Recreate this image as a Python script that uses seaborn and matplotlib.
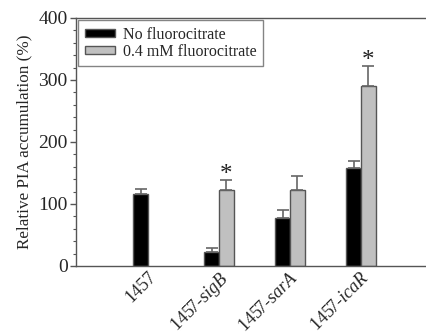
import numpy as np
import pandas as pd
import matplotlib
matplotlib.use("Agg")
import matplotlib.pyplot as plt
import seaborn as sns
from matplotlib.ticker import MultipleLocator

strains = ["1457", "1457-sigB", "1457-sarA", "1457-icaR"]
tick_labels = ["1457", "1457-$\\it{sigB}$", "1457-$\\it{sarA}$", "1457-$\\it{icaR}$"]
conditions = ["No fluorocitrate", "0.4 mM fluorocitrate"]
no_fluoro = [115.6, 22.6, 77.0, 158.5]
no_fluoro_err = [9.1, 5.9, 14.0, 11.5]
fluoro = [np.nan, 122.0, 122.0, 290.0]
fluoro_err = [np.nan, 17.0, 23.0, 33.0]
significant = [False, True, False, True]

sns.set_style("white")
plt.rcParams['font.family'] = ['Liberation Serif', 'DejaVu Serif']
plt.rcParams['mathtext.fontset'] = 'custom'
plt.rcParams['mathtext.rm'] = 'Liberation Serif'
plt.rcParams['mathtext.it'] = 'Liberation Serif:italic'

df = pd.DataFrame({
    "strain": strains * 2,
    "cond": [conditions[0]] * 4 + [conditions[1]] * 4,
    "value": no_fluoro + fluoro,
})

fig = plt.figure(figsize=(4.26, 3.36), dpi=100)
ax = fig.add_axes([76 / 426, 1 - 266 / 336, 1 - 76 / 426, (266 - 18) / 336])

colors = {conditions[0]: "#000000", conditions[1]: "#c0c0c0"}
sns.barplot(data=df, x="strain", y="value", hue="cond", hue_order=conditions,
            order=strains, palette=colors, width=0.42, gap=0,
            edgecolor="#555555", linewidth=1.0, ax=ax, legend=True)

half = 0.42 / 4
xs = np.arange(len(strains))
for off, vals, errs in [(-half, no_fluoro, no_fluoro_err), (half, fluoro, fluoro_err)]:
    v = np.array(vals, dtype=float)
    e = np.array(errs, dtype=float)
    ax.errorbar(xs + off, v, yerr=[np.zeros_like(e), e], fmt="none",
                ecolor="#666666", elinewidth=1.2, capsize=4, capthick=1.2, zorder=3)
for i, s in enumerate(significant):
    if s:
        ax.text(xs[i] + half, fluoro[i] + fluoro_err[i] - 10, "*", ha="center", va="bottom",
                fontsize=18, color="#222222")

ax.set_ylim(0, 400)
ax.set_xlim(-1.014, 3.915)
ax.yaxis.set_major_locator(MultipleLocator(100))
ax.yaxis.set_minor_locator(MultipleLocator(20))
ax.tick_params(axis="y", which="major", direction="out", length=4, width=1, color="#555555",
               labelsize=14, left=True, pad=2)
ax.tick_params(axis="y", which="minor", direction="out", length=2, width=0.8, color="#555555", left=True)
ax.tick_params(axis="x", length=0, labelsize=13, pad=2)
ax.set_xticks(xs)
ax.set_xticklabels(tick_labels, rotation=45, ha="right", rotation_mode="anchor")
ax.set_xlabel("")
ax.set_ylabel("Relative PIA accumulation (%)", fontsize=12.3, labelpad=4)

for side in ["left", "bottom", "top"]:
    ax.spines[side].set_visible(True)
    ax.spines[side].set_color("#555555")
    ax.spines[side].set_linewidth(1.0)
ax.spines["right"].set_visible(False)

leg = ax.legend(loc="upper left", bbox_to_anchor=(0.0, 1.0), fontsize=11.5, frameon=True,
                fancybox=False, edgecolor="#666666", handlelength=1.9, handleheight=0.45,
                borderaxespad=0.15, labelspacing=0.05, handletextpad=0.5, borderpad=0.4)
leg.get_frame().set_linewidth(1.0)

fig.savefig("out.png", dpi=100)
